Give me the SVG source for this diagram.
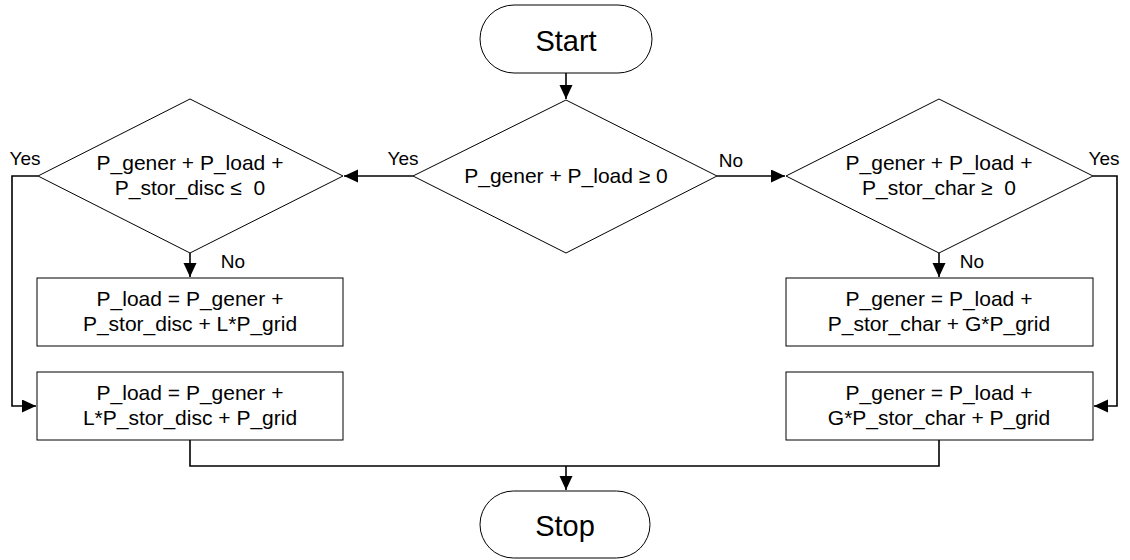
<svg xmlns="http://www.w3.org/2000/svg" width="1130" height="560" viewBox="0 0 1130 560">
<style>
.shape{fill:#fff;stroke:#000;stroke-width:1}
.conn{fill:none;stroke:#000;stroke-width:1.6}
text{font-family:"Liberation Sans",Arial,sans-serif;fill:#000;text-anchor:middle}
.t{font-size:21px}
.term{font-size:29px}
.lbl{font-size:19px}
</style>
<defs>
<marker id="arr" markerUnits="userSpaceOnUse" markerWidth="16" markerHeight="14" refX="14" refY="6.5" orient="auto">
<path d="M0,0 L14,6.5 L0,13 Z" fill="#000"/>
</marker>
</defs>
<g id="connectors">
<path class="conn" d="M566,73 V99" marker-end="url(#arr)"/>
<path class="conn" d="M413,176 H344" marker-end="url(#arr)"/>
<path class="conn" d="M717,176 H785" marker-end="url(#arr)"/>
<path class="conn" d="M190,253 V277" marker-end="url(#arr)"/>
<path class="conn" d="M939,253 V277" marker-end="url(#arr)"/>
<path class="conn" d="M38,176 H12 V406 H36" marker-end="url(#arr)"/>
<path class="conn" d="M1093,176 H1117 V406 H1094" marker-end="url(#arr)"/>
<path class="conn" d="M190,440 V466 H939 V440"/>
<path class="conn" d="M566,466 V490" marker-end="url(#arr)"/>
</g>
<g id="start">
<rect class="shape" x="480" y="5" width="172" height="68" rx="34"/>
<text class="term" x="566" y="51">Start</text>
</g>
<g id="dec-main">
<path class="shape" d="M566,100 L717,176 L566,253 L413,176 Z"/>
<text class="t" x="566" y="183">P_gener + P_load ≥ 0</text>
</g>
<g id="dec-left">
<path class="shape" d="M190,99 L343,176 L190,253 L38,176 Z"/>
<text class="t" x="190" y="170">P_gener + P_load +</text>
<text class="t" x="190" y="195" xml:space="preserve">P_stor_disc ≤  0</text>
</g>
<g id="dec-right">
<path class="shape" d="M939,99 L1093,176 L939,253 L786,176 Z"/>
<text class="t" x="939" y="170">P_gener + P_load +</text>
<text class="t" x="939" y="195" xml:space="preserve">P_stor_char ≥  0</text>
</g>
<g id="box-left-1">
<rect class="shape" x="37" y="278" width="306" height="68"/>
<text class="t" x="190" y="306">P_load = P_gener +</text>
<text class="t" x="190" y="331">P_stor_disc + L*P_grid</text>
</g>
<g id="box-left-2">
<rect class="shape" x="37" y="372" width="306" height="68"/>
<text class="t" x="190" y="400">P_load = P_gener +</text>
<text class="t" x="190" y="425">L*P_stor_disc + P_grid</text>
</g>
<g id="box-right-1">
<rect class="shape" x="786" y="278" width="307" height="68"/>
<text class="t" x="939" y="306">P_gener = P_load +</text>
<text class="t" x="939" y="331">P_stor_char + G*P_grid</text>
</g>
<g id="box-right-2">
<rect class="shape" x="786" y="372" width="307" height="68"/>
<text class="t" x="939" y="400">P_gener = P_load +</text>
<text class="t" x="939" y="425">G*P_stor_char + P_grid</text>
</g>
<g id="stop">
<rect class="shape" x="480" y="491" width="170" height="67" rx="33.5"/>
<text class="term" x="565" y="536">Stop</text>
</g>
<g id="labels">
<text class="lbl" x="25" y="165">Yes</text>
<text class="lbl" x="403" y="165">Yes</text>
<text class="lbl" x="731" y="167">No</text>
<text class="lbl" x="1104" y="165">Yes</text>
<text class="lbl" x="233" y="268">No</text>
<text class="lbl" x="972" y="268">No</text>
</g>
</svg>
